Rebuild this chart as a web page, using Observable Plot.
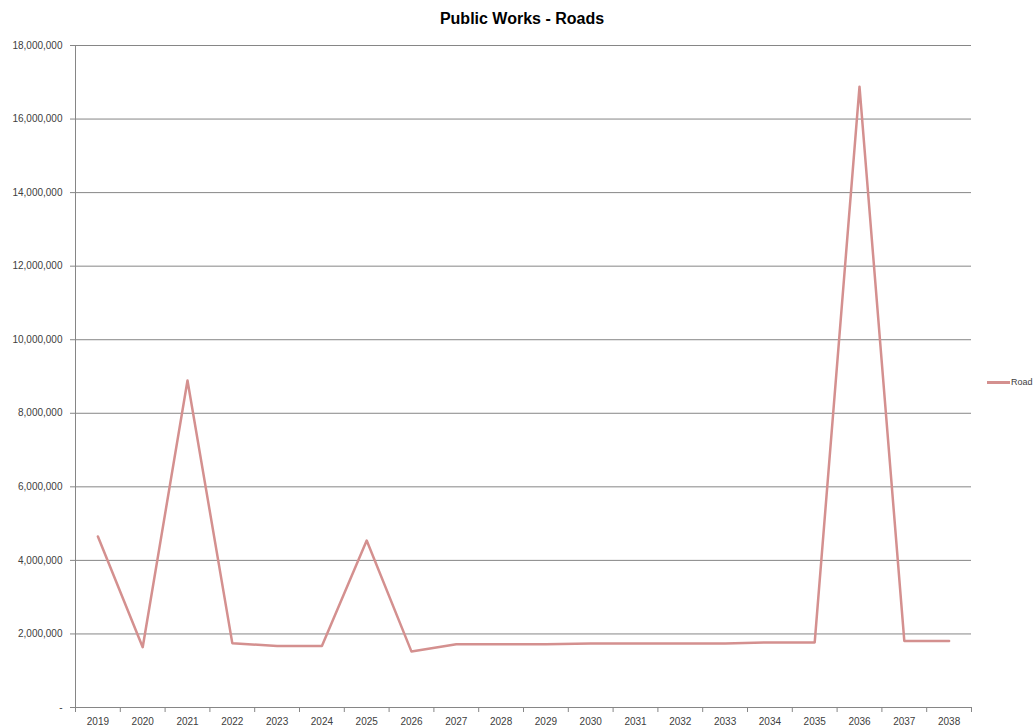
<!DOCTYPE html>
<html>
<head>
<meta charset="utf-8">
<script src="https://cdn.jsdelivr.net/npm/d3@7"></script>
<script src="https://cdn.jsdelivr.net/npm/@observablehq/plot@0.6"></script>
<style>
  html, body { margin: 0; padding: 0; background: white; }
  #wrap { position: relative; width: 1034px; height: 726px; overflow: hidden; }
  #title { position: absolute; left: 0; width: 1044px; top: 10px; text-align: center;
           font: bold 16px "Liberation Sans", sans-serif; color: #000; }
  #legend { position: absolute; left: 987px; top: 377px; font: 9px "Liberation Sans", sans-serif; color: #404040;
            display: flex; align-items: center; }
  #legend span.sw { display: inline-block; width: 23px; height: 3px; background: #d4908f; margin-right: 1px; }
</style>
</head>
<body>
<div id="wrap">
  <div id="chart"></div>
  <div id="title">Public Works - Roads</div>
  <div id="legend"><span class="sw"></span><span>Road</span></div>
</div>
<script>
const years = [2019, 2020, 2021, 2022, 2023, 2024, 2025, 2026, 2027, 2028,
               2029, 2030, 2031, 2032, 2033, 2034, 2035, 2036, 2037, 2038];
const roads = [4650000, 1640000, 8890000, 1750000, 1670000, 1670000, 4540000, 1520000, 1720000, 1720000,
               1720000, 1740000, 1740000, 1740000, 1740000, 1770000, 1770000, 16880000, 1810000, 1810000];
const yTicks = [0, 2000000, 4000000, 6000000, 8000000, 10000000, 12000000, 14000000, 16000000, 18000000];
const seriesName = "Road";

const data = years.map((year, i) => ({year, value: roads[i], series: seriesName}));
const boundaries = [years[0] - 0.5, ...years.map(y => y + 0.5)];
const fmt = d3.format(",");

const chart = Plot.plot({
  width: 1034,
  height: 726,
  marginLeft: 75,
  marginRight: 63,
  marginTop: 45,
  marginBottom: 19,
  style: {fontFamily: "Liberation Sans, sans-serif", fontSize: "10px", color: "#404040", background: "white", overflow: "visible"},
  x: {type: "linear", domain: [years[0] - 0.5, years[years.length - 1] + 0.5]},
  y: {domain: [0, 18000000]},
  marks: [
    Plot.gridY(yTicks, {stroke: "#868686", strokeOpacity: 1}),
    Plot.ruleX([years[0] - 0.5], {stroke: "#868686"}),
    Plot.ruleY([0], {stroke: "#868686"}),
    Plot.axisY(yTicks, {tickSize: 5, tickPadding: 8, stroke: "#868686", fill: "#404040",
      tickFormat: d => d === 0 ? "-" : fmt(d), label: null}),
    Plot.axisX(boundaries, {tickSize: 5, stroke: "#868686", tickFormat: () => "", label: null}),
    Plot.axisX(years, {tickSize: 0, tickPadding: 10, fill: "#404040", tickFormat: d => String(d), label: null}),
    Plot.line(data, {x: "year", y: "value", stroke: "#d4908f", strokeWidth: 2.5})
  ]
});
document.getElementById("chart").appendChild(chart);
</script>
</body>
</html>
